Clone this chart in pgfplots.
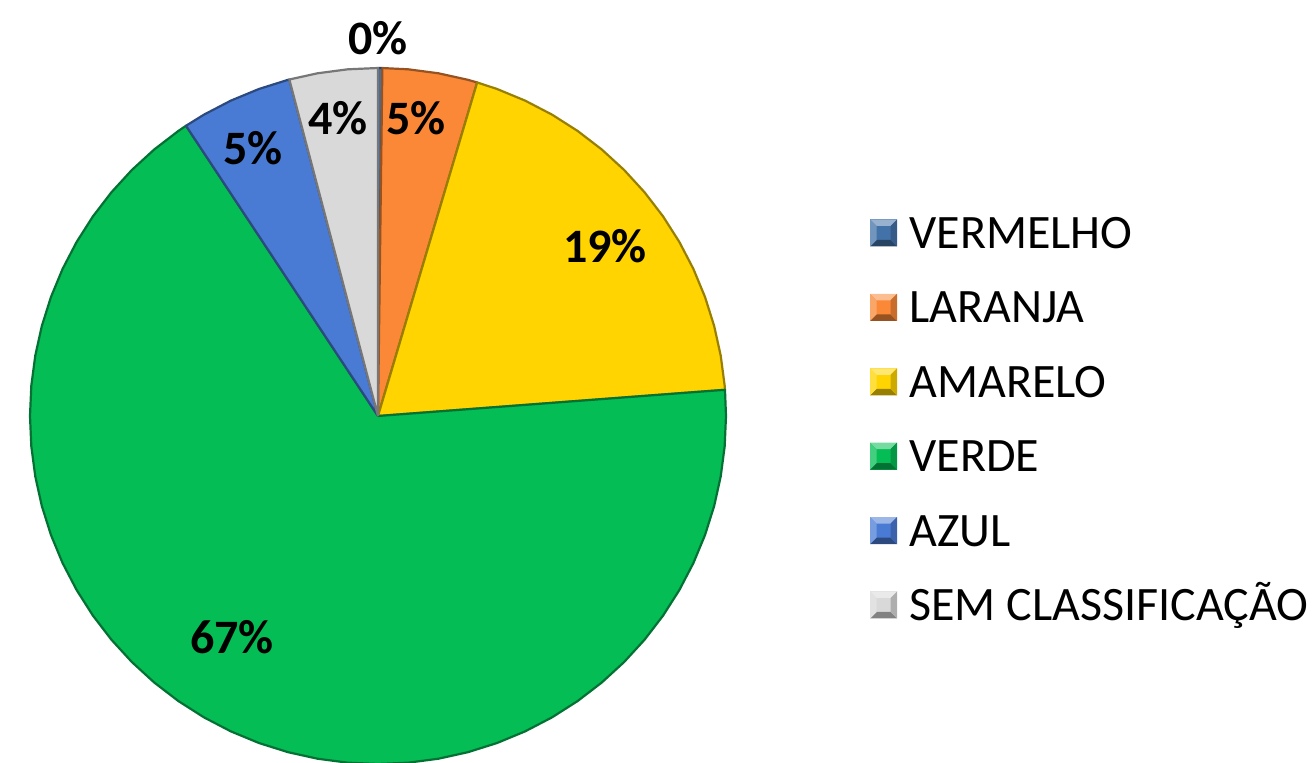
\documentclass[border=0pt]{standalone}
\usepackage{pgfplots}
\pgfplotsset{compat=1.18}
\usepgfplotslibrary{polar}
\usepackage{fontspec}
\setmainfont{Carlito}
\definecolor{cVerm}{HTML}{4372A8}
\definecolor{cLar}{HTML}{FA8837}
\definecolor{cAma}{HTML}{FFD400}
\definecolor{cVer}{HTML}{05BD55}
\definecolor{cAzu}{HTML}{4A7BD4}
\definecolor{cSem}{HTML}{D9D9D9}
\tikzset{lab/.style={font=\fontsize{24bp}{28bp}\selectfont\bfseries, inner sep=0pt}}
\newcommand{\legsq}[2]{%
\begin{scope}[shift={(252.75bp,#2)}]
\fill[#1] (-6.75bp,-6.75bp) rectangle (6.75bp,6.75bp);
\fill[#1!55!white] (-6.75bp,6.75bp) -- (6.75bp,6.75bp) -- (3.5bp,3.5bp) -- (-3.5bp,3.5bp) -- cycle;
\fill[#1!60!black] (-6.75bp,-6.75bp) -- (6.75bp,-6.75bp) -- (3.5bp,-3.5bp) -- (-3.5bp,-3.5bp) -- cycle;
\fill[#1!80!black] (6.75bp,-6.75bp) -- (6.75bp,6.75bp) -- (3.5bp,3.5bp) -- (3.5bp,-3.5bp) -- cycle;
\fill[#1!75!white] (-6.75bp,-6.75bp) -- (-6.75bp,6.75bp) -- (-3.5bp,3.5bp) -- (-3.5bp,-3.5bp) -- cycle;
\end{scope}}
\newcommand{\legtxt}[2]{\node[anchor=base west, inner sep=0pt, font=\fontsize{24bp}{28bp}\selectfont] at (265.5bp,#1) {#2};}
\begin{document}
\begin{tikzpicture}
\begin{polaraxis}[
  hide axis, scale only axis, width=348bp, height=348bp,
  ymin=0, ymax=1, clip=false,
  every axis plot/.append style={mark=none, line width=1.1bp, line join=round},
]
% VERMELHO 0.2%
\addplot[fill=cVerm, draw=cVerm!60!black] coordinates {(0,0) (90,1) (89.28,1) (0,0)};
% LARANJA 4.4%
\addplot[fill=cLar, draw=cLar!60!black] coordinates {(0,0) (89.28,1) (85,1) (80,1) (75,1) (73.44,1) (0,0)};
% AMARELO 19.2%
\addplot[fill=cAma, draw=cAma!60!black] coordinates {(0,0) (73.44,1) (70,1) (65,1) (60,1) (55,1) (50,1) (45,1) (40,1) (35,1) (30,1) (25,1) (20,1) (15,1) (10,1) (5,1) (4.32,1) (0,0)};
% VERDE 66.9%
\addplot[fill=cVer, draw=cVer!60!black] coordinates {(0,0) (4.32,1) (0,1) (355,1) (350,1) (345,1) (340,1) (335,1) (330,1) (325,1) (320,1) (315,1) (310,1) (305,1) (300,1) (295,1) (290,1) (285,1) (280,1) (275,1) (270,1) (265,1) (260,1) (255,1) (250,1) (245,1) (240,1) (235,1) (230,1) (225,1) (220,1) (215,1) (210,1) (205,1) (200,1) (195,1) (190,1) (185,1) (180,1) (175,1) (170,1) (165,1) (160,1) (155,1) (150,1) (145,1) (140,1) (135,1) (130,1) (125,1) (123.48,1) (0,0)};
% AZUL 5.2%
\addplot[fill=cAzu, draw=cAzu!60!black] coordinates {(0,0) (123.48,1) (120,1) (115,1) (110,1) (105,1) (104.76,1) (0,0)};
% SEM CLASSIFICACAO 4.1%
\addplot[fill=cSem, draw=cSem!55!black] coordinates {(0,0) (104.76,1) (100,1) (95,1) (90,1) (0,0)};
\node[lab] at (axis cs:90,1.086) {0\%};
\node[lab] at (axis cs:82.73,0.863) {5\%};
\node[lab] at (axis cs:36.83,0.815) {19\%};
\node[lab] at (axis cs:236.55,0.761) {67\%};
\node[lab] at (axis cs:115.0,0.850) {5\%};
\node[lab] at (axis cs:97.65,0.864) {4\%};
\coordinate (c) at (axis cs:0,0);
\end{polaraxis}
\begin{scope}[shift={(c)}]
\legsq{cVerm}{91.5bp}   \legtxt{83.75bp}{VERMELHO}
\legsq{cLar}{54.3bp}    \legtxt{46.55bp}{LARANJA}
\legsq{cAma}{17.1bp}    \legtxt{9.35bp}{AMARELO}
\legsq{cVer}{-20.1bp}   \legtxt{-27.85bp}{VERDE}
\legsq{cAzu}{-57.3bp}   \legtxt{-65.05bp}{AZUL}
\legsq{cSem}{-94.5bp}   \legtxt{-102.25bp}{SEM CLASSIFICAÇÃO}
\end{scope}
\pgfresetboundingbox
\path[use as bounding box] (c) ++(-189bp,-173.5bp) rectangle ++(657bp,381.5bp);
\end{tikzpicture}
\end{document}
